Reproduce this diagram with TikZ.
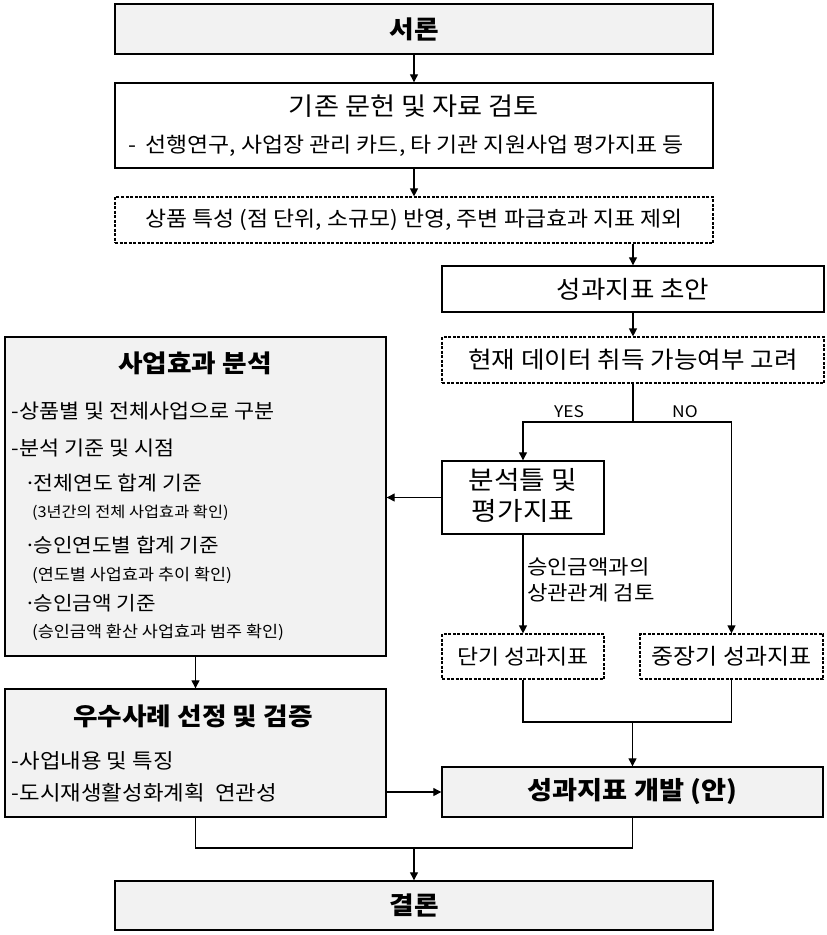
\documentclass[tikz,border=0pt]{standalone}
\usepackage{fontspec}
\setmainfont{Noto Sans CJK KR}[FakeStretch=1.09]
\usetikzlibrary{arrows.meta}
\definecolor{boxgray}{RGB}{242,242,242}
\newcommand\myfs[1]{\fontsize{#1}{#1}\selectfont}
\newcommand\mydot{·\kern-0.12em}
\tikzset{
  frm/.style={draw=black, line width=1.4pt, rectangle, inner sep=0pt},
  graybox/.style={frm, fill=boxgray},
  whitebox/.style={frm, fill=white},
  dashbox/.style={frm, fill=white, dash pattern=on 3pt off 1.5pt, line width=1.2pt},
  txt/.style={inner sep=0pt, outer sep=0pt},
  conn/.style={line width=1.2pt, draw=black},
  arr/.style={conn, -{Triangle[length=8pt,width=8pt]}},
}
\begin{document}
\begin{tikzpicture}[x=1pt,y=-1pt]
\useasboundingbox (0,0) rectangle (827,935);
% boxes
\node[graybox, minimum width=598pt, minimum height=50pt] (intro) at (414,29) {\myfs{24.5}\bfseries 서론};
\node[whitebox, minimum width=598pt, minimum height=85pt] (review) at (414,125.5) {};
\node[txt] (reviewT) at (414,106) {\myfs{25}기존 문헌 및 자료 검토};
\node[txt] (reviewS) at (406,146) {\myfs{21}-\hspace{0.45em}선행연구, 사업장 관리 카드, 타 기관 지원사업 평가지표 등};
\node[dashbox, minimum width=598pt, minimum height=46pt] (dash1) at (414,220) {\myfs{21}상품 특성 (점 단위, 소규모) 반영, 주변 파급효과 지표 제외};
\node[whitebox, minimum width=382pt, minimum height=46pt] (draft) at (633,289) {\myfs{24.4}성과지표 초안};
\node[dashbox, minimum width=382pt, minimum height=46pt] (data) at (633,360) {\myfs{23.5}현재 데이터 취득 가능여부 고려};
\node[whitebox, minimum width=162pt, minimum height=73pt] (frame) at (523,497.5) {};
\node[txt, align=center, font=\fontsize{25.5}{31}\selectfont] (frameT) at (523,495) {분석틀 및\\평가지표};
\node[dashbox, minimum width=162pt, minimum height=45pt] (short) at (523,656.5) {\myfs{21}단기 성과지표};
\node[dashbox, minimum width=183pt, minimum height=45pt] (mid) at (731.5,656.5) {\myfs{22}중장기 성과지표};
\node[graybox, minimum width=381pt, minimum height=50pt] (dev) at (632.5,792) {\myfs{25}\bfseries 성과지표 개발 (안)};
\node[graybox, minimum width=381pt, minimum height=319pt] (effect) at (195.5,496.5) {};
\node[graybox, minimum width=381pt, minimum height=128pt] (best) at (195.5,753) {};
\node[graybox, minimum width=598pt, minimum height=49pt] (concl) at (414,905.5) {\myfs{24.5}\bfseries 결론};
% texts in effect box
\node[txt] (e0) at (195,363) {\myfs{24.5}\bfseries 사업효과 분석};
\node[txt, anchor=west] (e1) at (12,411) {\myfs{20}-상품별 및 전체사업으로 구분};
\node[txt, anchor=west] (e2) at (12,448) {\myfs{20}-분석 기준 및 시점};
\node[txt, anchor=west] (e3) at (24,483) {\myfs{19.8}\mydot 전체연도 합계 기준};
\node[txt, anchor=west] (e4) at (32,513) {\myfs{15}(3년간의 전체 사업효과 확인)};
\node[txt, anchor=west] (e5) at (24,545) {\myfs{19.5}\mydot 승인연도별 합계 기준};
\node[txt, anchor=west] (e6) at (32,575) {\myfs{16}(연도별 사업효과 추이 확인)};
\node[txt, anchor=west] (e7) at (24,603) {\myfs{19.5}\mydot 승인금액 기준};
\node[txt, anchor=west] (e8) at (32,632) {\myfs{16}(승인금액 환산 사업효과 범주 확인)};
% texts in best box
\node[txt] (b0) at (193,716) {\myfs{24.5}\bfseries 우수사례 선정 및 검증};
\node[txt, anchor=west] (b1) at (12,761) {\myfs{20.5}-사업내용 및 특징};
\node[txt, anchor=west] (b2) at (12,793) {\myfs{20.5}-도시재생활성화계획\hspace{0.5em}연관성};
% labels
\node[txt] (yes) at (569,412) {\myfs{16}YES};
\node[txt] (no) at (685,412) {\myfs{16}NO};
\node[txt, anchor=west, align=left, font=\fontsize{20.4}{26}\selectfont] (corr) at (527,580) {승인금액과의\\상관관계 검토};
% coordinates
\coordinate (split) at (633,422);
\coordinate (join) at (632.5,722);
\coordinate (join2) at (414,848);
% connectors
\draw[arr] (intro) -- (review);
\draw[arr] (review) -- (dash1);
\draw[arr] (draft.north |- dash1.south) -- (draft.north);
\draw[arr] (draft) -- (data);
\draw[conn] (data.south) -- (split);
\draw[arr] (split) -| (frame.north);
\draw[arr] (split) -| (mid.north);
\draw[arr] (frame.west) -- (frame.west -| effect.east);
\draw[arr] (frame) -- (short);
\draw[arr] (effect) -- (best);
\draw[conn] (short.south) |- (join);
\draw[conn] (mid.south) |- (join);
\draw[arr] (join) -- (dev.north);
\draw[arr] (best.east |- dev.west) -- (dev.west);
\draw[conn] (best.south) |- (join2);
\draw[conn] (dev.south) |- (join2);
\draw[arr] (join2) -- (concl.north);
\end{tikzpicture}
\end{document}
